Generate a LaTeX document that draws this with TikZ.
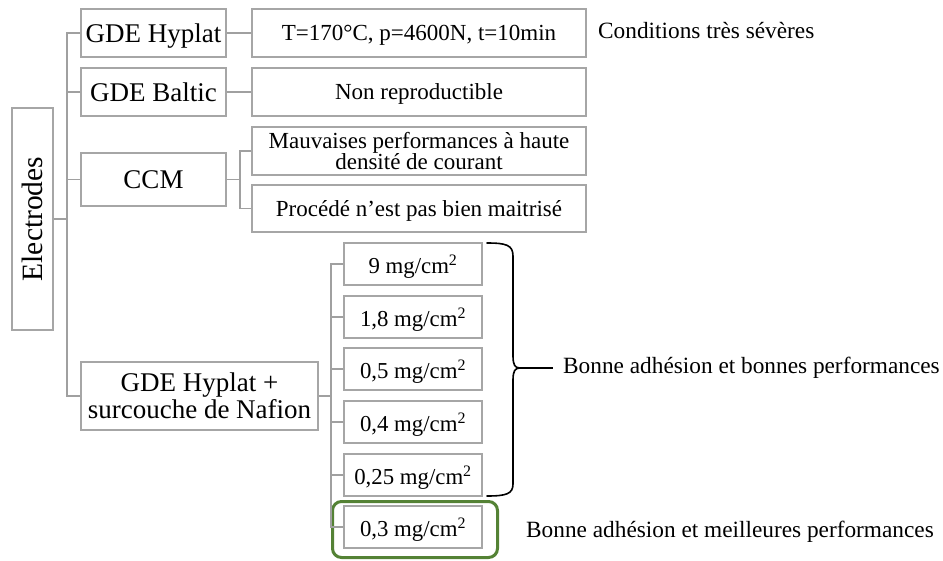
\documentclass[tikz,border=0pt]{standalone}
\usepackage{fontspec}
\setmainfont{Liberation Serif}
\definecolor{boxgray}{HTML}{A6A6A6}
\definecolor{linegray}{HTML}{A0A0A0}
\definecolor{okgreen}{HTML}{548235}
\tikzset{
  bx/.style={draw=boxgray, line width=1.4pt, inner sep=0pt, align=center},
  one/.style={text depth=0pt},
  big/.style={font=\fontsize{27}{27}\selectfont},
  small/.style={font=\fontsize{23}{21}\selectfont},
  mass/.style={font=\fontsize{22.8}{24}\selectfont},
  conn/.style={draw=linegray, line width=1.4pt},
  note/.style={anchor=west, inner sep=0pt, font=\fontsize{23.3}{24}\selectfont},
}
\begin{document}
\begin{tikzpicture}[x=1pt,y=-1pt]
\useasboundingbox (0,0) rectangle (943,560);
% level 0
\node[bx, minimum width=41, minimum height=222, font=\fontsize{29.5}{30}\selectfont] (elec) at (32.5,219) {\rotatebox{90}{Electrodes}};
% level 1
\node[bx, one, big, minimum width=145, minimum height=48] (hyp) at (153.5,33) {GDE Hyplat};
\node[bx, one, big, minimum width=145, minimum height=48] (bal) at (153.5,92) {GDE Baltic};
\node[bx, one, big, minimum width=145, minimum height=53] (ccm) at (153.5,179.5) {CCM};
\node[bx, big, minimum width=237, minimum height=68] (naf) at (199.5,396) {GDE Hyplat +\\surcouche de Nafion};
% level 2
\node[bx, one, small, minimum width=334, minimum height=48] (cond1) at (419,33) {T=170°C, p=4600N, t=10min};
\node[bx, one, small, minimum width=334, minimum height=48] (nonrep) at (419,92) {Non reproductible};
\node[bx, small, minimum width=334, minimum height=48] (mauv) at (419,151) {Mauvaises performances à haute\\densité de courant};
\node[bx, one, small, minimum width=334, minimum height=47] (proc) at (419,208.5) {Procédé n’est pas bien maitrisé};
\node[bx, one, mass, minimum width=138, minimum height=42] (m1) at (413,264) {9 mg/cm\textsuperscript{2}};
\node[bx, one, mass, minimum width=138, minimum height=42] (m2) at (413,317) {1,8 mg/cm\textsuperscript{2}};
\node[bx, one, mass, minimum width=138, minimum height=42] (m3) at (413,369) {0,5 mg/cm\textsuperscript{2}};
\node[bx, one, mass, minimum width=138, minimum height=42] (m4) at (413,422) {0,4 mg/cm\textsuperscript{2}};
\node[bx, one, mass, minimum width=138, minimum height=42] (m5) at (413,475) {0,25 mg/cm\textsuperscript{2}};
\node[bx, one, mass, minimum width=138, minimum height=42] (m6) at (413,527) {0,3 mg/cm\textsuperscript{2}};
\node[draw=okgreen, line width=3pt, rounded corners=9pt, minimum width=165, minimum height=56, inner sep=0pt] (best) at (415,529.5) {};
% notes
\node[note] (cond) at (598,31) {Conditions très sévères};
\node[note] (lab1) at (563,368) {Bonne adhésion et bonnes performances};
\node[note] (lab2) at (526,532) {Bonne adhésion et meilleures performances};
% connectors
\coordinate (tr) at (67,0);
\coordinate (cc) at (240,0);
\coordinate (nt) at (331,0);
\coordinate (btip) at (520,368);
\coordinate (bend) at (553,368);
\draw[conn] (elec.east) -- (elec.east -| tr);
\draw[conn] (hyp.west) -| (tr |- naf.west) -- (naf.west);
\draw[conn] (bal.west) -- (bal.west -| tr);
\draw[conn] (ccm.west) -- (ccm.west -| tr);
\draw[conn] (hyp.east) -- (cond1.west);
\draw[conn] (bal.east) -- (nonrep.west);
\draw[conn] (ccm.east) -- (ccm.east -| cc);
\draw[conn] (mauv.west) -| (cc |- proc.west) -- (proc.west);
\draw[conn] (naf.east) -- (naf.east -| nt);
\draw[conn] (m1.west) -| (nt |- m6.west) -- (m6.west);
\foreach \m in {m2,m3,m4,m5} \draw[conn] (\m.west) -- (\m.west -| nt);
% brace
\draw[black, line width=1.6pt, line cap=round]
  (487,243) .. controls (506,243) and (513,245) .. (513,256)
  -- (513,356) .. controls (513,365) and (515,368) .. (btip)
  .. controls (515,368) and (513,371) .. (513,380)
  -- (513,484) .. controls (513,494) and (506,496) .. (487,496);
\draw[black, line width=1.6pt] (btip) -- (bend);
\end{tikzpicture}
\end{document}
